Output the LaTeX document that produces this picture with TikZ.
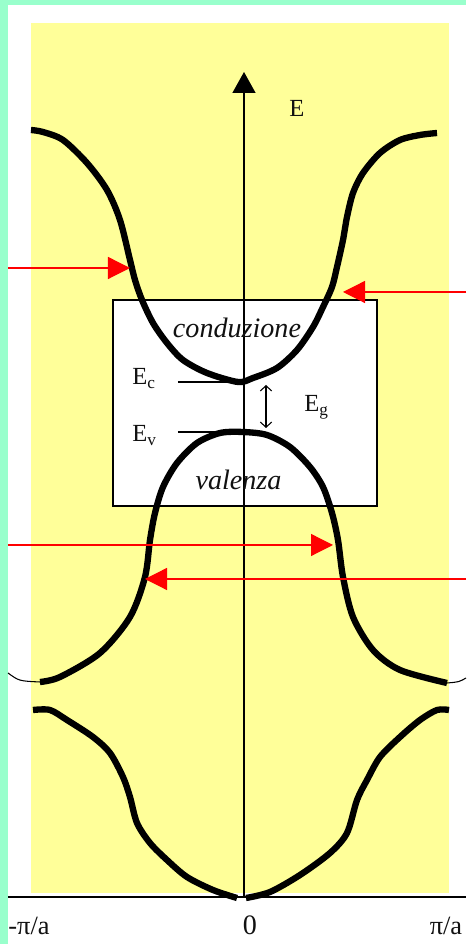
\documentclass[tikz,border=0pt]{standalone}
\usepackage{fontspec}
\setmainfont{Liberation Serif}
\usetikzlibrary{arrows.meta}
\definecolor{mint}{HTML}{99FFCC}
\definecolor{paper}{HTML}{FFFF99}
\definecolor{laser}{HTML}{FF0000}
\definecolor{ink}{HTML}{111111}

\tikzset{
  band/.style={line width=3.6pt,line join=round},
  tail/.style={line width=0.6pt},
  axisline/.style={line width=0.8pt},
  level/.style={line width=0.6pt},
  photon/.style={laser,line width=0.7pt,
    -{Triangle[length=0.44cm,width=0.44cm]}},
  lbl/.style={inner sep=0pt,anchor=base west,font=\fontsize{14}{16}\selectfont},
  bandname/.style={inner sep=0pt,anchor=base,font=\fontsize{16}{18}\selectfont\itshape},
}

\begin{document}
\begin{tikzpicture}[text=ink,>=Latex]
  \useasboundingbox (-4.88,-0.94) rectangle (4.44,17.94);
  \fill[white] (-4.88,-0.94) rectangle (4.44,17.94);
  \fill[mint] (-4.88,-0.94) rectangle (-4.72,17.94);
  \fill[mint] (-4.88,17.84) rectangle (4.44,17.94);
  \fill[paper] (-4.26,0.08) rectangle (4.10,17.48);
  \draw[level,fill=white] (-2.62,7.82) rectangle (2.66,11.94);

  % conduction band
  \draw[band] plot[smooth,tension=0.5] coordinates {
    (-4.26,15.34) (-4.02,15.30) (-3.62,15.14) (-3.14,14.68) (-2.74,14.14)
    (-2.48,13.54) (-2.28,12.74) (-2.18,12.34) (-2.04,11.94) (-1.82,11.48)
    (-1.54,11.08) (-1.22,10.74) (-0.74,10.48) (-0.12,10.30) (0.18,10.38)
    (0.66,10.58) (1.06,10.94) (1.38,11.40) (1.58,11.80) (1.76,12.20)
    (1.86,12.60) (1.98,13.14) (2.06,13.60) (2.18,14.08) (2.38,14.48)
    (2.72,14.88) (3.12,15.14) (3.52,15.24) (3.86,15.28)};
  % valence band
  \draw[band] plot[smooth,tension=0.5] coordinates {
    (-4.08,4.30) (-3.68,4.40) (-2.88,4.88) (-2.28,5.60) (-1.98,6.40)
    (-1.88,7.14) (-1.78,7.68) (-1.62,8.20) (-1.34,8.68) (-0.94,9.08)
    (-0.48,9.28) (-0.02,9.30) (0.46,9.24) (0.92,9.00) (1.32,8.60)
    (1.58,8.20) (1.76,7.68) (1.88,7.14) (1.98,6.40) (2.18,5.60)
    (2.58,4.94) (3.12,4.54) (4.06,4.28)};
  \draw[tail] (-4.72,4.48) .. controls (-4.50,4.32) .. (-4.08,4.30);
  \draw[tail] (4.06,4.28) .. controls (4.30,4.30) .. (4.44,4.38);
  % lower band
  \draw[band] plot[smooth,tension=0.5] coordinates {
    (-4.22,3.74) (-3.88,3.74) (-3.54,3.54) (-3.02,3.20) (-2.68,2.88)
    (-2.42,2.40) (-2.28,2.00) (-2.14,1.48) (-1.88,1.08) (-1.54,0.74)
    (-1.14,0.40) (-0.62,0.14) (-0.14,-0.02)};
  \draw[band] plot[smooth,tension=0.5] coordinates {
    (0.04,-0.02) (0.52,0.10) (1.12,0.44) (1.72,0.88) (2.06,1.28)
    (2.26,1.94) (2.46,2.34) (2.72,2.80) (3.12,3.20) (3.52,3.54)
    (3.86,3.74) (4.10,3.74)};

  \coordinate (O) at (0,0);
  \coordinate (Etip) at (0,16.5);
  \coordinate (kl) at (-4.72,0);
  \coordinate (kr) at (4.44,0);
  \draw[axisline] (kl) -- (kr);
  \draw[axisline,-{Triangle[length=0.42cm,width=0.46cm]}] (O) -- (Etip);

  % band edges and gap
  \coordinate (Ec0) at (-1.32,10.30);
  \coordinate (Ec1) at (-0.08,10.30);
  \coordinate (Ev0) at (-1.32,9.30);
  \coordinate (Ev1) at (0,9.30);
  \draw[level] (Ec0) -- (Ec1);
  \draw[level] (Ev0) -- (Ev1);
  \coordinate (gtop) at (0.44,10.24);
  \coordinate (gbot) at (0.44,9.38);
  \draw[level,{Straight Barb[length=3pt,width=6.5pt]}-{Straight Barb[length=3pt,width=6.5pt]}]
    (gtop) -- (gbot);

  \foreach \n/\xa/\xb/\y in {a/-4.72/-2.28/12.58,b/4.44/1.98/12.10,
                             c/-4.72/1.78/7.04,d/4.44/-1.98/6.36}{
    \coordinate (\n0) at (\xa,\y);
    \coordinate (\n1) at (\xb,\y);
    \draw[photon] (\n0) -- (\n1);
  }

  \node[lbl] (E) at (0.90,15.60) {E};
  \node[lbl] (Ec) at (-2.24,10.24) {E\textsubscript{c}};
  \node[lbl] (Ev) at (-2.24,9.10) {E\textsubscript{v}};
  \node[lbl] (Eg) at (1.20,9.70) {E\textsubscript{g}};
  \node[bandname] (cond) at (-0.14,11.18) {conduzione};
  \node[bandname] (val) at (-0.11,8.14) {valenza};

  \node[lbl,anchor=base,font=\fontsize{15}{17}\selectfont] (kmin) at (-4.30,-0.74) {-π/a};
  \node[lbl,anchor=base,font=\fontsize{16}{18}\selectfont] (kzero) at (0.12,-0.76) {0};
  \node[lbl,anchor=base,font=\fontsize{15}{17}\selectfont] (kmax) at (4.04,-0.74) {π/a};
\end{tikzpicture}
\end{document}
